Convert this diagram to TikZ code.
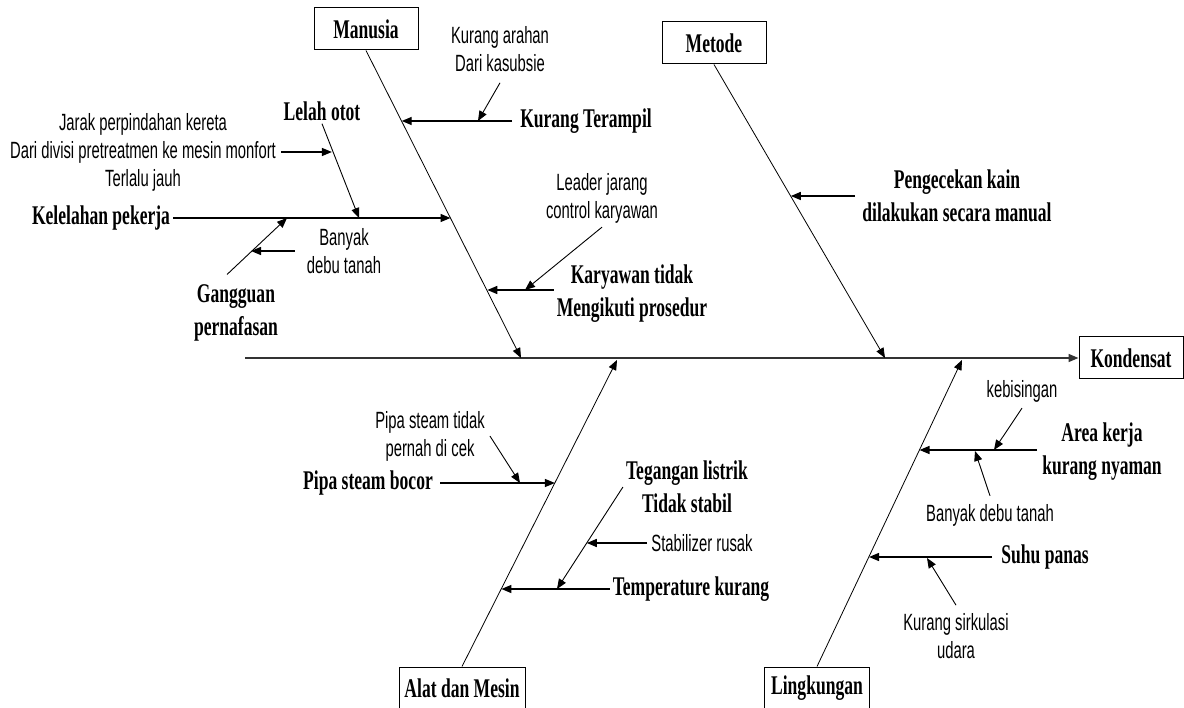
\documentclass[tikz,border=0pt]{standalone}
\usepackage{fontspec}
\newfontfamily\headfont[FakeStretch=0.65]{Liberation Serif}
\newfontfamily\notefont[FakeStretch=0.63]{Liberation Sans}
\usetikzlibrary{arrows.meta}
\begin{document}
\begin{tikzpicture}[x=1pt, y=-1pt,
  box/.style={draw, line width=1pt, minimum width=104pt, minimum height=42pt, inner sep=0pt,
    font=\headfont\bfseries\fontsize{27}{33}\selectfont},
  cause/.style={inner sep=3pt, align=center, font=\headfont\bfseries\fontsize{27}{33}\selectfont},
  note/.style={inner sep=0pt, align=center, font=\notefont\fontsize{23.5}{28}\selectfont},
  bone/.style={line width=0.8pt, -{Triangle[length=10pt,width=8pt]}},
  twig/.style={line width=1.4pt, -{Triangle[length=10pt,width=8pt]}},
  sub/.style={line width=0.9pt, -{Triangle[length=10pt,width=8pt]}}]
\useasboundingbox (0,0) rectangle (1184,708);
% Head and spine
\node[box] (kondensat) at (1131,358) {Kondensat};
\coordinate (tail) at (245,358);
\draw[line width=1.5pt, black!80, -{Triangle[length=10pt,width=8pt]}] (tail) -- (kondensat);
% Category boxes
\node[box] (manusia) at (366,29) {Manusia};
\node[box] (metode) at (714,43) {Metode};
\node[box, minimum width=126pt] (alat) at (462,688) {Alat dan Mesin};
\node[box, minimum width=105pt] (lingkungan) at (817,688) {Lingkungan};
% Main bones
\coordinate (s1) at (521,358);
\coordinate (s2) at (885,358);
\coordinate (s3) at (617,360);
\coordinate (s4) at (962,360);
\draw[bone] (manusia.south) -- (s1);
\draw[bone] (metode.south) -- (s2);
\draw[bone] (alat.north) -- (s3);
\draw[bone] (lingkungan.north) -- (s4);
% Points on the bones
\coordinate (m1) at (401.7,121);
\coordinate (m2) at (450.5,218);
\coordinate (m3) at (487.3,290);
\coordinate (t1) at (790.8,196);
\coordinate (a1) at (554.9,483);
\coordinate (a2) at (501.4,589);
\coordinate (l1) at (919.5,450);
\coordinate (l2) at (869,557);
% Manusia
\node[cause] (terampil) at (586,121) {Kurang Terampil};
\draw[twig, shorten <=5pt] (terampil) -- (m1);
\node[note] (arahan) at (500,49) {Kurang arahan\\Dari kasubsie};
\coordinate (k5) at (478,121);
\draw[sub] ([yshift=-11pt]arahan.south) -- (k5);
\node[cause] (kelelahan) at (101,218) {Kelelahan pekerja};
\draw[twig] (kelelahan) -- (m2);
\node[cause] (lelah) at (322,111) {Lelah otot};
\coordinate (k1) at (359,218);
\draw[sub] (lelah.south) -- (k1);
\node[note] (jarak) at (143,152) {Jarak perpindahan kereta\\Dari divisi pretreatmen ke mesin monfort\\Terlalu jauh};
\coordinate (k2) at (331.9,152);
\draw[twig, shorten <=5pt] (jarak.east |- k2) -- (k2);
\node[cause] (gangguan) at (236,313) {Gangguan\\pernafasan};
\coordinate (k3) at (287,218);
\draw[sub] ([xshift=-9pt,yshift=7pt]gangguan.north) -- (k3);
\node[note] (banyak1) at (344,251) {Banyak\\debu tanah};
\coordinate (k4) at (251,251);
\draw[twig, shorten <=12pt] (banyak1.west) -- (k4);
\node[cause] (karyawan) at (632,294) {Karyawan tidak\\Mengikuti prosedur};
\draw[twig] (karyawan.west |- m3) -- (m3);
\node[note] (leader) at (602,198) {Leader jarang\\control karyawan};
\coordinate (k6) at (525,290);
\draw[sub] ([yshift=-4pt]leader.south) -- (k6);
% Metode
\node[cause] (pengecekan) at (957,196) {Pengecekan kain\\dilakukan secara manual};
\draw[twig, shorten <=4pt] (pengecekan.west |- t1) -- (t1);
% Alat dan Mesin
\node[cause] (pipa) at (368,483) {Pipa steam bocor};
\draw[twig, shorten <=4pt] (pipa) -- (a1);
\node[note] (pipatidak) at (430,436) {Pipa steam tidak\\pernah di cek};
\coordinate (k7) at (520,483);
\draw[sub] ([xshift=5pt]pipatidak.east) -- (k7);
\node[cause] (temperature) at (691,589) {Temperature kurang};
\draw[twig] (temperature) -- (a2);
\node[cause] (tegangan) at (687,487) {Tegangan listrik\\Tidak stabil};
\coordinate (k8) at (557,589);
\draw[sub] (tegangan.west) -- (k8);
\node[note] (stabilizer) at (702,543) {Stabilizer rusak};
\coordinate (k9) at (586.8,543);
\draw[twig, shorten <=4pt] (stabilizer) -- (k9);
% Lingkungan
\node[cause] (area) at (1102,452) {Area kerja\\kurang nyaman};
\draw[twig, shorten <=2pt] (area.west |- l1) -- (l1);
\node[note] (bising) at (1022,391) {kebisingan};
\coordinate (k10) at (994,450);
\draw[sub] ([yshift=-6pt]bising.south) -- (k10);
\node[note] (banyak2) at (990,515) {Banyak debu tanah};
\coordinate (k11) at (975,451);
\draw[sub] ([yshift=8pt]banyak2.north) -- (k11);
\node[cause] (suhu) at (1045,557) {Suhu panas};
\draw[twig, shorten <=6pt] (suhu) -- (l2);
\node[note] (sirkulasi) at (956,636) {Kurang sirkulasi\\udara};
\coordinate (k12) at (927,558);
\draw[sub] ([yshift=8pt]sirkulasi.north) -- (k12);
\end{tikzpicture}
\end{document}
